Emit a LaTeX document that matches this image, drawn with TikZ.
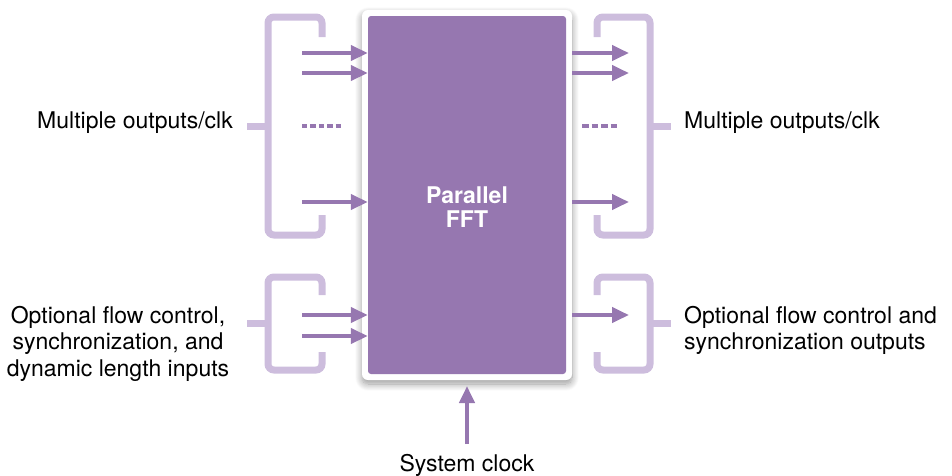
\documentclass[tikz,border=0pt]{standalone}
\usepackage{fontspec}
\setmainfont{TeX Gyre Heros}
\usetikzlibrary{arrows.meta,shadows.blur}
\definecolor{fftpurple}{HTML}{9677B0}
\definecolor{bracketlilac}{HTML}{CDBDDD}
\tikzset{
  x=1pt,y=-1pt,
  bracketline/.style={draw=bracketlilac,line width=7pt,rounded corners=6pt},
  sigarrow/.style={draw=fftpurple,line width=4pt,-{Triangle[length=17pt,width=15pt]}},
  sigdots/.style={draw=fftpurple,line width=4pt},
  lbl/.style={font=\fontsize{23}{26.5}\selectfont,text=black,inner sep=0pt},
}
\begin{document}
\begin{tikzpicture}
\useasboundingbox (0,0) rectangle (952,475);
% main block
\node[fill=white,rounded corners=6pt,minimum width=210pt,minimum height=370pt,inner sep=0pt,
  blur shadow={shadow blur steps=12,shadow xshift=0pt,shadow yshift=-4pt,shadow opacity=40,shadow blur radius=7pt}]
  (frame) at (467,195) {};
\node[fill=fftpurple,rounded corners=3pt,minimum width=198pt,minimum height=358pt,inner sep=0pt] (fft) at (467,195) {};
\node[font=\fontsize{23}{24}\selectfont\bfseries,text=white,align=center,inner sep=0pt] (fftlbl) at (467,207) {Parallel\\FFT};
% brackets
\draw[bracketline] (322,37) -- (322,17) -- (268,17) -- (268,235) -- (322,235) -- (322,215);
\draw[bracketline] (247,126) -- (268,126);
\draw[bracketline] (597,37) -- (597,17) -- (650,17) -- (650,235) -- (597,235) -- (597,215);
\draw[bracketline] (650,126) -- (671,126);
\draw[bracketline] (322,295) -- (322,277) -- (268,277) -- (268,370) -- (322,370) -- (322,352);
\draw[bracketline] (247,323) -- (268,323);
\draw[bracketline] (597,295) -- (597,277) -- (650,277) -- (650,370) -- (597,370) -- (597,352);
\draw[bracketline] (650,323) -- (671,323);
% input arrows
\coordinate (i1) at (302,53);
\coordinate (i2) at (302,73);
\coordinate (i3) at (302,202);
\coordinate (i4) at (302,315);
\coordinate (i5) at (302,336);
\foreach \c in {i1,i2,i3,i4,i5}
  \draw[sigarrow] (\c) -- (\c -| fft.west);
\draw[sigdots,dash pattern=on 5.4pt off 3pt] (302,126) -- (341,126);
% output arrows
\coordinate (o1) at (629,53);
\coordinate (o2) at (629,73);
\coordinate (o3) at (629,202);
\coordinate (o4) at (629,315);
\foreach \c in {o1,o2,o3,o4}
  \draw[sigarrow] (\c -| frame.east) -- (\c);
\draw[sigdots,dash pattern=on 6.5pt off 3pt] (582,126) -- (617,126);
% clock
\coordinate (clk) at (467,444);
\draw[sigarrow] (clk) -- (467,386);
% labels
\node[lbl,anchor=base east] (lin) at (233,128) {Multiple outputs/clk};
\node[lbl,anchor=base west] (lout) at (684,128) {Multiple outputs/clk};
\node[lbl,align=center,anchor=north] (fin) at (118,306) {Optional flow control,\\synchronization, and\\dynamic length inputs};
\node[lbl,align=left,anchor=north west] (fout) at (684,306) {Optional flow control and\\synchronization outputs};
\node[lbl,anchor=base] (sclk) at (467,471) {System clock};
\end{tikzpicture}
\end{document}
